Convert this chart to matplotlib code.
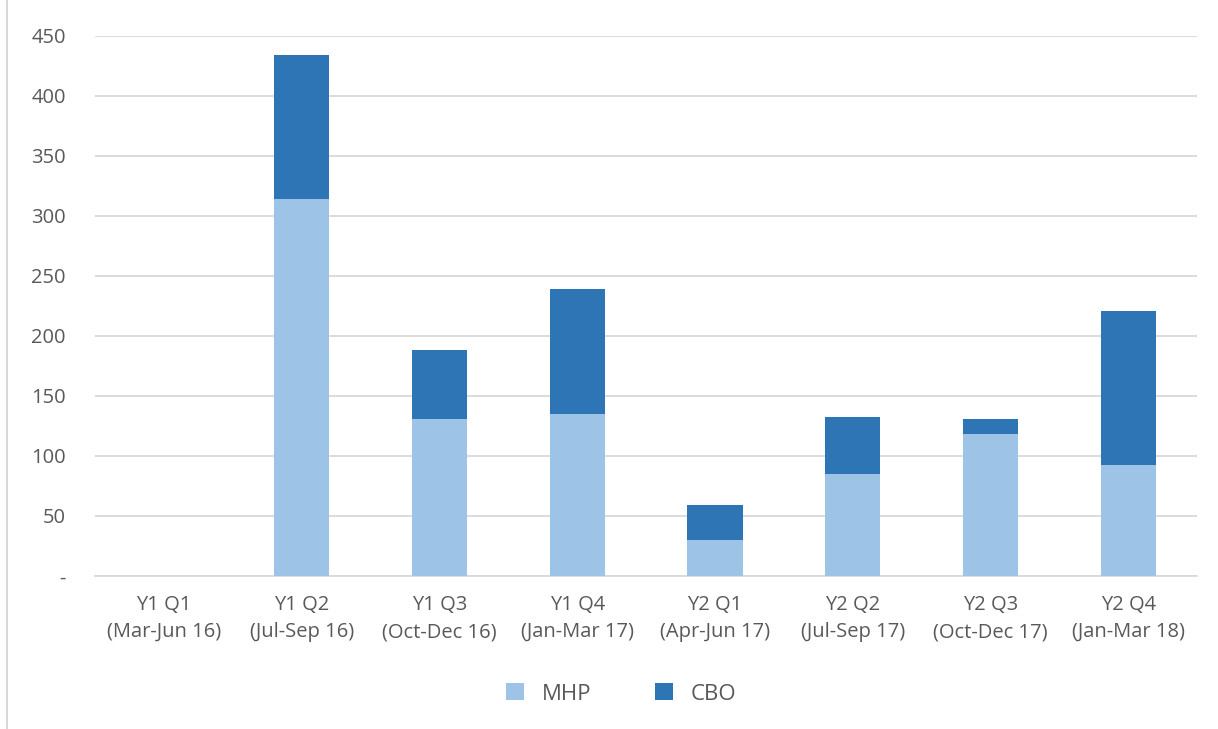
import matplotlib.pyplot as plt
import numpy as np
from matplotlib.lines import Line2D

quarters = ['Y1 Q1\n(Mar-Jun 16)', 'Y1 Q2\n(Jul-Sep 16)', 'Y1 Q3\n(Oct-Dec 16)', 'Y1 Q4\n(Jan-Mar 17)',
            'Y2 Q1\n(Apr-Jun 17)', 'Y2 Q2\n(Jul-Sep 17)', 'Y2 Q3\n(Oct-Dec 17)', 'Y2 Q4\n(Jan-Mar 18)']
mhp = [0, 314, 131, 135, 30, 85, 118, 92]
cbo = [0, 120, 57, 104, 29, 47, 13, 129]

plt.rcParams['font.family'] = ['Open Sans', 'DejaVu Sans']

fig = plt.figure(figsize=(12.18, 7.29), dpi=100)
ax = fig.add_axes([0.078, 0.21, 0.905, 0.741])

x = np.arange(len(quarters))
ax.bar(x, mhp, width=0.4, color='#9DC3E6', label='MHP', zorder=3)
ax.bar(x, cbo, width=0.4, bottom=mhp, color='#2E75B6', label='CBO', zorder=3)

ax.set_xlim(-0.5, len(quarters) - 0.5)
ax.set_ylim(0, 450)
yt = np.arange(0, 451, 50)
ax.set_yticks(yt)
ax.set_yticklabels(['-'] + [str(v) for v in yt[1:]])
ax.set_xticks(x)
ax.set_xticklabels(quarters, linespacing=1.45)
ax.tick_params(axis='both', length=0, labelsize=14.5, colors='#595959')
ax.tick_params(axis='y', pad=21)
ax.tick_params(axis='x', pad=14)
ax.grid(axis='y', color='#d9d9d9', linewidth=1.3, zorder=0)
for s in ['top', 'right', 'left']:
    ax.spines[s].set_visible(False)
ax.spines['bottom'].set_color('#d9d9d9')
ax.spines['bottom'].set_linewidth(1.3)

fig.legend(loc='center', bbox_to_anchor=(0.51, 0.048), ncol=2, frameon=False,
           fontsize=16, labelcolor='#595959', handlelength=0.8, handleheight=0.8,
           columnspacing=2.9, handletextpad=0.8)

fig.add_artist(Line2D([7 / 1218, 7 / 1218], [0, 1], color='#d0d0d0', linewidth=1.2))

plt.savefig('out.png', dpi=100)
